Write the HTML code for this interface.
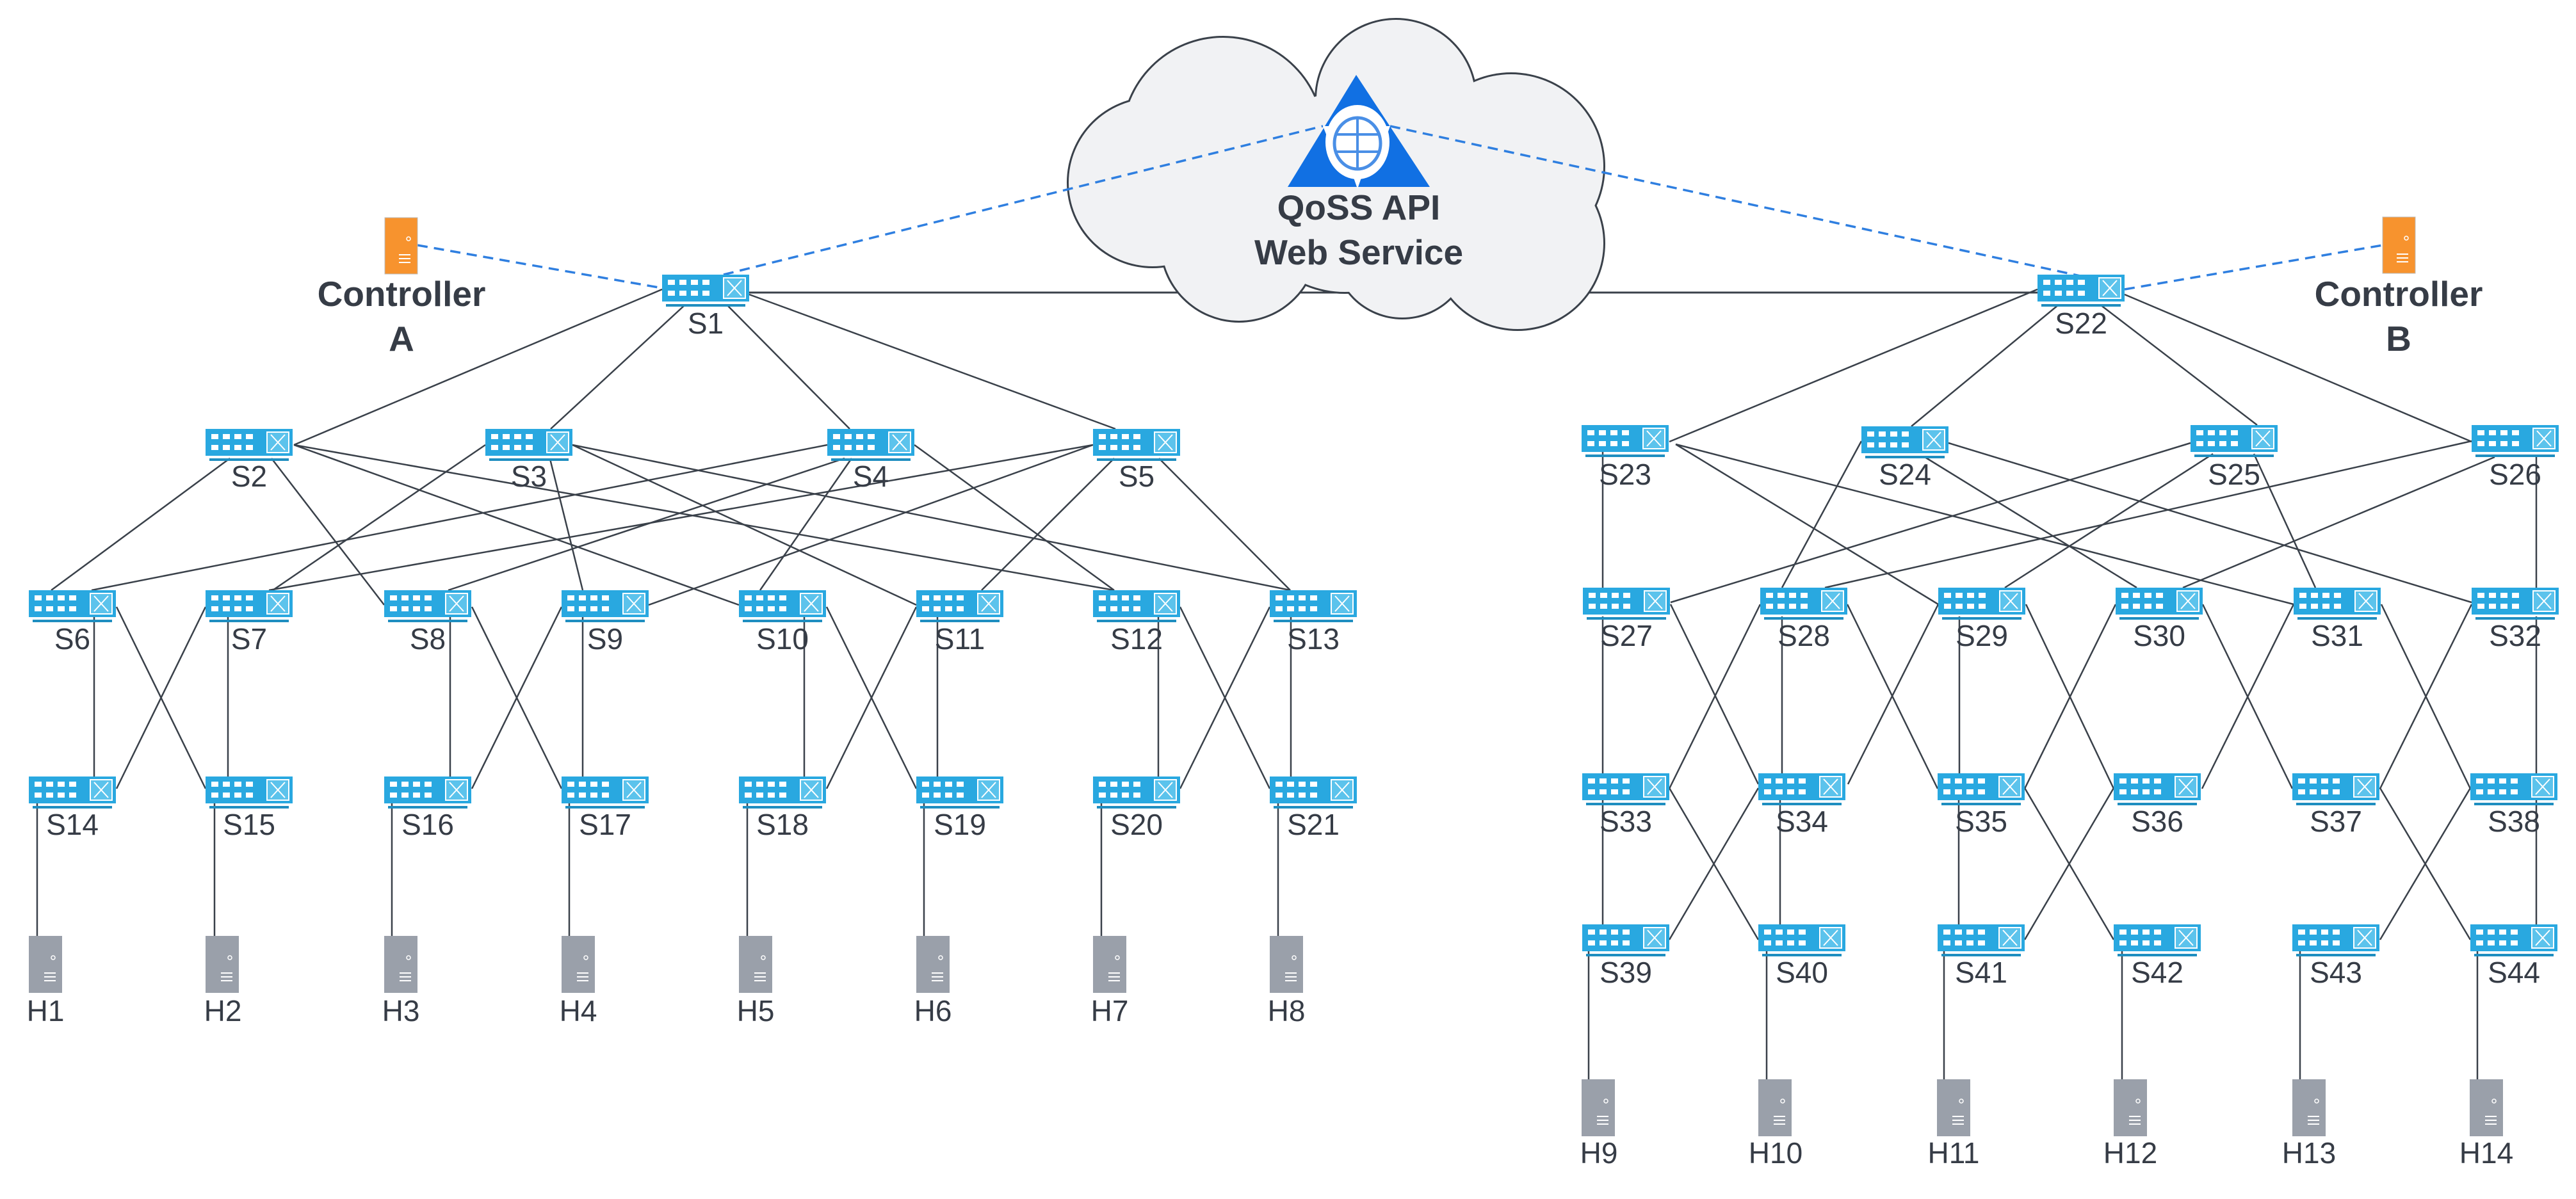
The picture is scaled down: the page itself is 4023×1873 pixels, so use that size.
<!DOCTYPE html>
<html><head><meta charset="utf-8"><style>
html,body{margin:0;padding:0;background:#fff}
svg{display:block}
text{font-family:"Liberation Sans",sans-serif;fill:#363c46}
.l{font-size:46px;text-anchor:middle}
.b{font-size:55px;font-weight:bold;text-anchor:middle}
</style></head><body>
<svg width="4023" height="1873" viewBox="0 0 4023 1873" xmlns="http://www.w3.org/2000/svg">
<defs>
<g id="sw">
<rect x="0" y="0" width="136" height="42" fill="#29a8e0"/>
<g fill="#fff">
<rect x="9" y="8" width="11" height="8"/><rect x="27" y="8" width="11" height="8"/><rect x="45" y="8" width="11" height="8"/><rect x="63" y="8" width="11" height="8"/>
<rect x="9" y="25" width="11" height="8"/><rect x="27" y="25" width="11" height="8"/><rect x="45" y="25" width="11" height="8"/><rect x="63" y="25" width="11" height="8"/>
</g>
<rect x="96" y="5" width="34" height="32" fill="#5cc3ec" stroke="#fff" stroke-width="2"/>
<path d="M102 9 L124 33 M124 9 L102 33" stroke="#fff" stroke-width="2"/>
<rect x="6" y="46" width="124" height="4" fill="#1f8ec0"/>
</g>
<g id="host">
<rect x="0" y="0" width="52" height="89" fill="#9aa0aa"/>
<circle cx="38" cy="34" r="3" fill="none" stroke="#fff" stroke-width="1.5"/>
<path d="M24 58h18M24 64h18M24 70h18" stroke="#fff" stroke-width="2"/>
</g>
<g id="ctl">
<rect x="0" y="0" width="51" height="88" fill="#f7932e" stroke="#bbb" stroke-width="1"/>
<circle cx="37" cy="33" r="3" fill="none" stroke="#fff" stroke-width="1.5"/>
<path d="M22 58h18M22 64h18M22 70h18" stroke="#fff" stroke-width="2"/>
</g>
</defs>

<line x1="1170" y1="457" x2="3182" y2="457" stroke="#3a414a" stroke-width="3"/>

<g fill="#3a414a">
<circle cx="1800" cy="285" r="134"/><circle cx="1910" cy="215" r="159"/><circle cx="2180" cy="155" r="127"/>
<circle cx="2360" cy="260" r="147"/><circle cx="2370" cy="380" r="137"/><circle cx="1935" cy="380" r="124"/>
<circle cx="2190" cy="390" r="109"/><circle cx="2100" cy="300" r="159"/>
</g>
<g fill="#f1f2f4">
<circle cx="1800" cy="285" r="131"/><circle cx="1910" cy="215" r="156"/><circle cx="2180" cy="155" r="124"/>
<circle cx="2360" cy="260" r="144"/><circle cx="2370" cy="380" r="134"/><circle cx="1935" cy="380" r="121"/>
<circle cx="2190" cy="390" r="106"/><circle cx="2100" cy="300" r="156"/>
</g>

<g stroke="#3a414a" stroke-width="2.5" fill="none">
<path d="M1034 452L459 695M1070 476L860 670M1135 476L1327 670M1170 460L1742 670"/>
<path d="M3182 452L2607 690M3215 476L2985 666M3280 476L3525 664M3318 460L3860 690"/>
<path d="M359 716L80 922M424 716L600 945M459 695L1154 945M459 695L1740 922"/>
<path d="M758 695L426 922M859 717L910 922M894 695L1431 945M894 695L2015 922"/>
<path d="M1292 695L143 922M1319 716L700 922M1330 716L1187 922M1428 695L1740 922"/>
<path d="M1707 695L420 922M1707 695L1013 945M1740 716L1533 922M1810 716L2015 922"/>
<path d="M147 964V1213M356 964V1213M703 964V1213M910 964V1213M1256 964V1213M1464 964V1213M1809 964V1213M2016 964V1213"/>
<path d="M182 948L321 1232M321 948L182 1232M737 948L877 1232M877 948L737 1232M1291 948L1431 1232M1431 948L1291 1232M1843 948L1983 1232M1983 948L1843 1232"/>
<path d="M58 1254V1462M335 1254V1462M612 1254V1462M889 1254V1462M1167 1254V1462M1443 1254V1462M1720 1254V1462M1996 1254V1462"/>
<path d="M2617 694L3027 944M2617 694L3582 944M2503 705V918"/>
<path d="M2907 689L2783 918M3006 714L3337 918M3043 692L3860 941"/>
<path d="M3421 692L2609 941M3456 709L3131 918M3520 709L3616 918"/>
<path d="M3860 689L2850 918M3896 714L3409 918M3961 714V918"/>
<path d="M2503 963V1208M2609 944L2746 1225M2749 944L2607 1232M2783 963V1208M2885 944L3026 1232M3027 944L2886 1225M3060 963V1208M3164 944L3301 1232M3304 944L3162 1232M3440 944L3580 1232M3582 944L3439 1232M3719 944L3858 1232M3860 944L3717 1232M3961 963V1208"/>
<path d="M2503 1250V1444M2607 1231L2746 1468M2746 1231L2607 1468M2780 1250V1444M3059 1250V1444M3162 1231L3301 1468M3301 1231L3162 1468M3717 1231L3858 1468M3858 1231L3717 1468M3961 1250V1444"/>
<path d="M2481 1485V1686M2759 1485V1686M3036 1485V1686M3314 1485V1686M3592 1485V1686M3869 1485V1686"/>
</g>

<g stroke="#2f7fe0" stroke-width="3.5" stroke-dasharray="16 10" fill="none">
<path d="M652 383L1034 450M1130 429L2066 197M2171 197L3290 440M3318 452L3721 383"/>
</g>

<polygon points="2118,117 2011,292 2233,292" fill="#1170e3"/>
<ellipse cx="2120" cy="222" rx="50" ry="58" fill="#fff"/>
<path d="M2066 197 L2092 262 L2148 262 L2171 197 Z" fill="#fff"/>
<path d="M2112 272 L2120 295 L2128 272 Z" fill="#fff"/>
<ellipse cx="2120" cy="224" rx="36" ry="40" fill="#fff" stroke="#4a8fe6" stroke-width="5"/>
<path d="M2120 184V264M2086 210H2154M2086 237H2154" stroke="#4a8fe6" stroke-width="4"/>
<text class="b" x="2122" y="343">QoSS API</text>
<text class="b" x="2122" y="413">Web Service</text>

<use href="#ctl" x="601" y="340"/>
<text class="b" x="627" y="478">Controller</text>
<text class="b" x="627" y="548">A</text>
<use href="#ctl" x="3721" y="339"/>
<text class="b" x="3746" y="478">Controller</text>
<text class="b" x="3746" y="548">B</text>

<use href="#sw" x="1034" y="429"/><text class="l" x="1102" y="521">S1</text>
<use href="#sw" x="3182" y="429"/><text class="l" x="3250" y="521">S22</text>

<use href="#sw" x="321" y="670"/><text class="l" x="389" y="760">S2</text>
<use href="#sw" x="758" y="670"/><text class="l" x="826" y="760">S3</text>
<use href="#sw" x="1292" y="670"/><text class="l" x="1360" y="760">S4</text>
<use href="#sw" x="1707" y="670"/><text class="l" x="1775" y="760">S5</text>

<use href="#sw" x="45" y="922"/><text class="l" x="113" y="1014">S6</text>
<use href="#sw" x="321" y="922"/><text class="l" x="389" y="1014">S7</text>
<use href="#sw" x="600" y="922"/><text class="l" x="668" y="1014">S8</text>
<use href="#sw" x="877" y="922"/><text class="l" x="945" y="1014">S9</text>
<use href="#sw" x="1154" y="922"/><text class="l" x="1222" y="1014">S10</text>
<use href="#sw" x="1431" y="922"/><text class="l" x="1499" y="1014">S11</text>
<use href="#sw" x="1707" y="922"/><text class="l" x="1775" y="1014">S12</text>
<use href="#sw" x="1983" y="922"/><text class="l" x="2051" y="1014">S13</text>

<use href="#sw" x="45" y="1213"/><text class="l" x="113" y="1304">S14</text>
<use href="#sw" x="321" y="1213"/><text class="l" x="389" y="1304">S15</text>
<use href="#sw" x="600" y="1213"/><text class="l" x="668" y="1304">S16</text>
<use href="#sw" x="877" y="1213"/><text class="l" x="945" y="1304">S17</text>
<use href="#sw" x="1154" y="1213"/><text class="l" x="1222" y="1304">S18</text>
<use href="#sw" x="1431" y="1213"/><text class="l" x="1499" y="1304">S19</text>
<use href="#sw" x="1707" y="1213"/><text class="l" x="1775" y="1304">S20</text>
<use href="#sw" x="1983" y="1213"/><text class="l" x="2051" y="1304">S21</text>

<use href="#host" x="45" y="1462"/><text class="l" x="71" y="1595">H1</text>
<use href="#host" x="321" y="1462"/><text class="l" x="348" y="1595">H2</text>
<use href="#host" x="600" y="1462"/><text class="l" x="626" y="1595">H3</text>
<use href="#host" x="877" y="1462"/><text class="l" x="903" y="1595">H4</text>
<use href="#host" x="1154" y="1462"/><text class="l" x="1180" y="1595">H5</text>
<use href="#host" x="1431" y="1462"/><text class="l" x="1457" y="1595">H6</text>
<use href="#host" x="1707" y="1462"/><text class="l" x="1733" y="1595">H7</text>
<use href="#host" x="1983" y="1462"/><text class="l" x="2009" y="1595">H8</text>

<use href="#sw" x="2470" y="664"/><text class="l" x="2538" y="757">S23</text>
<use href="#sw" x="2907" y="666"/><text class="l" x="2975" y="757">S24</text>
<use href="#sw" x="3421" y="664"/><text class="l" x="3489" y="757">S25</text>
<use href="#sw" x="3860" y="664"/><text class="l" x="3928" y="757">S26</text>

<use href="#sw" x="2472" y="918"/><text class="l" x="2540" y="1009">S27</text>
<use href="#sw" x="2749" y="918"/><text class="l" x="2817" y="1009">S28</text>
<use href="#sw" x="3027" y="918"/><text class="l" x="3095" y="1009">S29</text>
<use href="#sw" x="3304" y="918"/><text class="l" x="3372" y="1009">S30</text>
<use href="#sw" x="3582" y="918"/><text class="l" x="3650" y="1009">S31</text>
<use href="#sw" x="3860" y="918"/><text class="l" x="3928" y="1009">S32</text>

<use href="#sw" x="2471" y="1208"/><text class="l" x="2539" y="1299">S33</text>
<use href="#sw" x="2746" y="1208"/><text class="l" x="2814" y="1299">S34</text>
<use href="#sw" x="3026" y="1208"/><text class="l" x="3094" y="1299">S35</text>
<use href="#sw" x="3301" y="1208"/><text class="l" x="3369" y="1299">S36</text>
<use href="#sw" x="3580" y="1208"/><text class="l" x="3648" y="1299">S37</text>
<use href="#sw" x="3858" y="1208"/><text class="l" x="3926" y="1299">S38</text>

<use href="#sw" x="2471" y="1444"/><text class="l" x="2539" y="1535">S39</text>
<use href="#sw" x="2746" y="1444"/><text class="l" x="2814" y="1535">S40</text>
<use href="#sw" x="3026" y="1444"/><text class="l" x="3094" y="1535">S41</text>
<use href="#sw" x="3301" y="1444"/><text class="l" x="3369" y="1535">S42</text>
<use href="#sw" x="3580" y="1444"/><text class="l" x="3648" y="1535">S43</text>
<use href="#sw" x="3858" y="1444"/><text class="l" x="3926" y="1535">S44</text>

<use href="#host" x="2470" y="1686"/><text class="l" x="2497" y="1817">H9</text>
<use href="#host" x="2746" y="1686"/><text class="l" x="2773" y="1817">H10</text>
<use href="#host" x="3025" y="1686"/><text class="l" x="3051" y="1817">H11</text>
<use href="#host" x="3301" y="1686"/><text class="l" x="3327" y="1817">H12</text>
<use href="#host" x="3580" y="1686"/><text class="l" x="3606" y="1817">H13</text>
<use href="#host" x="3857" y="1686"/><text class="l" x="3883" y="1817">H14</text>
</svg>
</body></html>
